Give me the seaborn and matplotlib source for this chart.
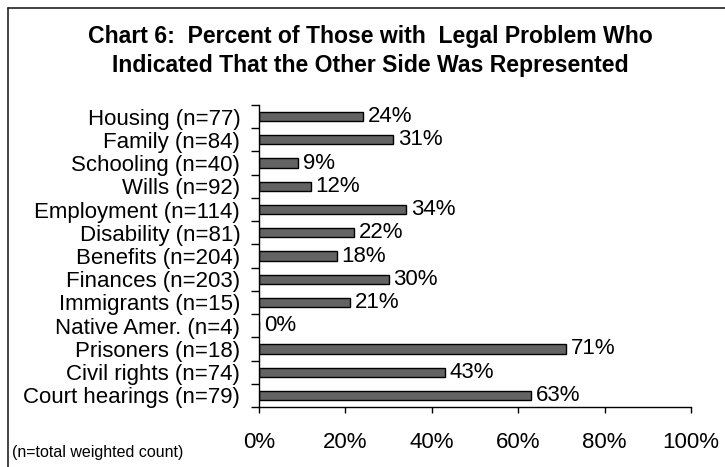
import matplotlib
matplotlib.use("Agg")
import matplotlib.pyplot as plt
from matplotlib.lines import Line2D
import seaborn as sns
import pandas as pd
import numpy as np

# ---- data ----
categories = ["Housing", "Family", "Schooling", "Wills", "Employment", "Disability",
              "Benefits", "Finances", "Immigrants", "Native Amer.", "Prisoners",
              "Civil rights", "Court hearings"]
counts = [77, 84, 40, 92, 114, 81, 204, 203, 15, 4, 18, 74, 79]
percents = [24, 31, 9, 12, 34, 22, 18, 30, 21, 0, 71, 43, 63]
x_ticks = [0, 20, 40, 60, 80, 100]
title_text = "Chart 6:  Percent of Those with  Legal Problem Who\nIndicated That the Other Side Was Represented"
footnote = "(n=total weighted count)"

labels = [f"{c} (n={n})" for c, n in zip(categories, counts)]
df = pd.DataFrame({"label": labels, "pct": percents})

sns.set_style("ticks")
plt.rcParams['font.family'] = ['Liberation Sans', 'DejaVu Sans']
plt.rcParams['text.color'] = 'black'

W, H = 725, 467
fig = plt.figure(figsize=(W / 100, H / 100), dpi=100)
ax = fig.add_axes([259 / W, 1 - 407 / H, (691 - 259) / W, (407 - 105) / H])

sns.barplot(data=df, x="pct", y="label", orient="h", color="#636363",
            saturation=1, edgecolor="black", linewidth=1.0, width=0.4, ax=ax)

ax.set_xlim(0, 100)
ax.set_ylim(len(labels) - 0.5, -0.5)
ax.set_xticks(x_ticks)
ax.set_xticklabels([f"{t}%" for t in x_ticks])
ax.set_xlabel("")
ax.set_ylabel("")

for s in ["top", "right"]:
    ax.spines[s].set_visible(False)
for s in ["left", "bottom"]:
    ax.spines[s].set_color("black")
    ax.spines[s].set_linewidth(1.0)

ax.tick_params(axis="y", which="major", length=0, pad=13.5, labelsize=16, colors="black")
ax.set_yticks(np.arange(-0.5, len(labels), 1.0), minor=True)
ax.tick_params(axis="y", which="minor", length=5.8, width=1.0, direction="out", color="black")
ax.tick_params(axis="x", which="major", length=4.3, width=1.0, direction="out",
               pad=13.5, labelsize=16, colors="black")

ax.bar_label(ax.containers[0], labels=[f"{v}%" for v in percents],
             padding=3.5, fontsize=16, color="black")

fig.text(370 / W, 1 - 51 / H, title_text, ha="center", va="center", color="black",
         multialignment="center", fontsize=16.6, fontweight="bold", linespacing=1.35)
fig.text(12 / W, 1 - 453 / H, footnote, ha="left", va="center", fontsize=11.5, color="black")

# chart frame (visible on left and top only, as cropped)
fx, fy = 7.5 / W, 1 - 7.5 / H
fig.add_artist(Line2D([fx, fx], [0, fy], transform=fig.transFigure, color="#222222", lw=1.2))
fig.add_artist(Line2D([fx, 1], [fy, fy], transform=fig.transFigure, color="#222222", lw=1.2))

fig.savefig("out.png", dpi=100, facecolor="white")
